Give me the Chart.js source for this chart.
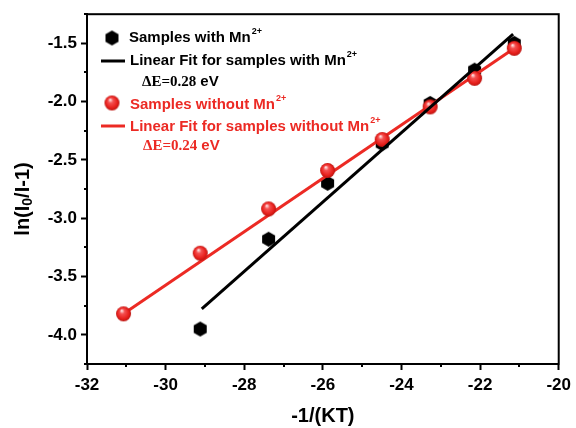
<!DOCTYPE html>
<html>
<head>
<meta charset="utf-8">
<script src="https://cdn.jsdelivr.net/npm/chart.js@4.4.0/dist/chart.umd.min.js"></script>
<style>
  html, body { margin: 0; padding: 0; background: #fff; }
  #wrap { width: 576px; height: 428px; position: relative; }
</style>
</head>
<body>
<div id="wrap"><canvas id="c"></canvas></div>
<script>
// data
const xWith = [-29.12, -27.38, -25.88, -24.49, -23.27, -22.14, -21.13];
const yWith = [-3.95, -3.18, -2.70, -2.36, -2.015, -1.73, -1.50];
const xWithout = [-31.07, -29.12, -27.38, -25.88, -24.49, -23.27, -22.14, -21.13];
const yWithout = [-3.82, -3.30, -2.92, -2.59, -2.325, -2.045, -1.80, -1.543];
// fitted lines (end points)
const fitWithX = [-29.08, -21.16];
const fitWithY = [-3.777, -1.42];
const fitWithoutX = [-31.07, -21.13];
const fitWithoutY = [-3.82, -1.543];

const xTicks = [-32, -30, -28, -26, -24, -22, -20];
const yTicks = [-4.0, -3.5, -3.0, -2.5, -2.0, -1.5];

const RED = '#ec2a24';
const SANS = "'Liberation Sans', Arial, sans-serif";
const SERIF = "'Liberation Serif', 'Times New Roman', serif";

const pts = (xs, ys) => xs.map((x, i) => ({ x: x, y: ys[i] }));

// marker images
function makeHex(r) {
    const c = document.createElement('canvas');
    c.width = c.height = Math.ceil(r * 2 + 2);
    const g = c.getContext('2d');
    const m = c.width / 2;
    g.beginPath();
    for (let i = 0; i < 6; i++) {
        const a = Math.PI / 2 + i * Math.PI / 3;
        g.lineTo(m + r * Math.cos(a), m + r * Math.sin(a));
    }
    g.closePath();
    g.fillStyle = '#000';
    g.fill();
    return c;
}
function makeBall(r) {
    const c = document.createElement('canvas');
    c.width = c.height = Math.ceil(r * 2 + 2);
    const g = c.getContext('2d');
    const m = c.width / 2;
    const grad = g.createRadialGradient(m - r * 0.25, m - r * 0.45, r * 0.05, m, m, r);
    grad.addColorStop(0, '#ffe4e4');
    grad.addColorStop(0.3, '#f45050');
    grad.addColorStop(0.75, '#e8201c');
    grad.addColorStop(1, '#b81410');
    g.beginPath();
    g.arc(m, m, r, 0, Math.PI * 2);
    g.fillStyle = grad;
    g.fill();
    return c;
}
const hexImg = makeHex(7.5);
const ballImg = makeBall(7.5);

// frame, minor ticks, y title, legend
const decor = {
    id: 'decor',
    afterDraw(chart) {
        const ctx = chart.ctx;
        const a = chart.chartArea;
        const xs = chart.scales.x, ys = chart.scales.y;
        ctx.save();
        ctx.strokeStyle = '#000';
        ctx.lineWidth = 2;
        ctx.strokeRect(a.left, a.top, a.right - a.left, a.bottom - a.top);

        // minor ticks
        ctx.lineWidth = 2;
        ctx.beginPath();
        for (let i = 0; i < xTicks.length - 1; i++) {
            const px = Math.round(xs.getPixelForValue((xTicks[i] + xTicks[i + 1]) / 2));
            ctx.moveTo(px, a.bottom);
            ctx.lineTo(px, a.bottom + 3);
        }
        const yMinor = [yTicks[0] - 0.25].concat(yTicks.map(v => v + 0.25));
        yMinor.forEach(v => {
            const py = Math.round(ys.getPixelForValue(v));
            ctx.moveTo(a.left, py);
            ctx.lineTo(a.left - 3, py);
        });
        ctx.stroke();

        // y axis title with subscript
        ctx.translate(22, 199);
        ctx.rotate(-Math.PI / 2);
        ctx.fillStyle = '#000';
        ctx.textBaseline = 'middle';
        const big = 'bold 20px ' + SANS, small = 'bold 14px ' + SANS;
        const parts = [['ln(I', big, 0], ['0', small, 5], ['/I-1)', big, 0]];
        let w = 0;
        parts.forEach(p => { ctx.font = p[1]; w += ctx.measureText(p[0]).width; });
        let x = -w / 2;
        parts.forEach(p => {
            ctx.font = p[1];
            ctx.fillText(p[0], x, p[2] + 1);
            x += ctx.measureText(p[0]).width;
        });
        ctx.restore();

        // legend
        ctx.save();
        ctx.drawImage(hexImg, 112 - hexImg.width / 2, 38 - hexImg.height / 2);
        ctx.drawImage(ballImg, 112 - ballImg.width / 2, 103 - ballImg.height / 2);
        ctx.lineWidth = 3;
        ctx.strokeStyle = '#000';
        ctx.beginPath(); ctx.moveTo(101, 61); ctx.lineTo(125, 61); ctx.stroke();
        ctx.strokeStyle = RED;
        ctx.beginPath(); ctx.moveTo(101, 126); ctx.lineTo(125, 126); ctx.stroke();

        ctx.textBaseline = 'alphabetic';
        const lines = [
            { t: 'Samples with Mn', x: 129, y: 42, c: '#000' },
            { t: 'Linear Fit for samples with Mn', x: 130, y: 65, c: '#000' },
            { t: 'Samples without Mn', x: 130, y: 109, c: RED },
            { t: 'Linear Fit for samples without Mn', x: 130, y: 131, c: RED }
        ];
        lines.forEach(l => {
            ctx.fillStyle = l.c;
            ctx.font = 'bold 15px ' + SANS;
            ctx.fillText(l.t, l.x, l.y);
            const w2 = ctx.measureText(l.t).width;
            ctx.font = 'bold 9px ' + SANS;
            ctx.fillText('2+', l.x + w2 + 1, l.y - 8);
        });
        const dE = [
            { a: '\u0394E=0.28', x: 142, y: 86, c: '#000' },
            { a: '\u0394E=0.24', x: 143, y: 150, c: RED }
        ];
        dE.forEach(d => {
            ctx.fillStyle = d.c;
            ctx.font = 'bold 15px ' + SERIF;
            ctx.fillText(d.a, d.x, d.y);
            const w3 = ctx.measureText(d.a).width;
            ctx.font = 'bold 15px ' + SANS;
            ctx.fillText(' eV', d.x + w3, d.y);
        });
        ctx.restore();
    }
};

new Chart(document.getElementById('c'), {
    type: 'scatter',
    data: {
        datasets: [
            {
                label: 'Linear Fit for samples with Mn2+',
                data: pts(fitWithX, fitWithY),
                showLine: true,
                borderColor: '#000',
                borderWidth: 3,
                pointRadius: 0,
                order: 0
            },
            {
                label: 'Samples without Mn2+',
                data: pts(xWithout, yWithout),
                pointStyle: ballImg,
                pointRadius: 7.5,
                order: 1
            },
            {
                label: 'Linear Fit for samples without Mn2+',
                data: pts(fitWithoutX, fitWithoutY),
                showLine: true,
                borderColor: RED,
                borderWidth: 3,
                pointRadius: 0,
                order: 2
            },
            {
                label: 'Samples with Mn2+',
                data: pts(xWith, yWith),
                pointStyle: hexImg,
                pointRadius: 7.5,
                order: 3
            }
        ]
    },
    options: {
        responsive: true,
        maintainAspectRatio: false,
        animation: false,
        layout: { padding: { left: 0, top: 14, right: 10, bottom: 0 } },
        plugins: { legend: { display: false }, tooltip: { enabled: false } },
        scales: {
            x: {
                type: 'linear',
                min: xTicks[0],
                max: xTicks[xTicks.length - 1],
                afterFit: s => { s.height = 64; },
                afterBuildTicks: s => { s.ticks = xTicks.map(v => ({ value: v })); },
                ticks: {
                    color: '#000',
                    padding: 5,
                    maxRotation: 0,
                    font: { family: SANS, size: 17, weight: 'bold' },
                    callback: v => String(v)
                },
                grid: { drawOnChartArea: false, drawTicks: true, tickLength: 6, tickWidth: 2, tickColor: '#000' },
                border: { display: true, color: '#000', width: 2 },
                title: {
                    display: true,
                    text: '-1/(KT)',
                    color: '#000',
                    font: { family: SANS, size: 20, weight: 'bold' },
                    padding: { top: 6, bottom: 0 }
                }
            },
            y: {
                type: 'linear',
                min: -4.25,
                max: -1.25,
                afterFit: s => { s.width = 87; },
                afterBuildTicks: s => { s.ticks = yTicks.map(v => ({ value: v })); },
                ticks: {
                    color: '#000',
                    padding: 4,
                    font: { family: SANS, size: 17, weight: 'bold' },
                    callback: v => v.toFixed(1)
                },
                grid: { drawOnChartArea: false, drawTicks: true, tickLength: 6, tickWidth: 2, tickColor: '#000' },
                border: { display: true, color: '#000', width: 2 }
            }
        }
    },
    plugins: [decor]
});
</script>
</body>
</html>
